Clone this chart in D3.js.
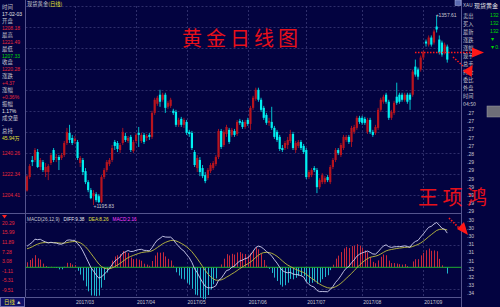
<!DOCTYPE html>
<html><head><meta charset="utf-8">
<script src="https://cdn.jsdelivr.net/npm/d3@7"></script>
<style>html,body{margin:0;padding:0;background:#030340;overflow:hidden}</style>
</head><body><svg id="c" width="500" height="307"></svg>
<script>
// ---------- DATA ----------
const opens = [1208.18,1219.7,1234.3,1234.3,1241.1,1228.3,1232.5,1224.0,1224.0,1231.7,
1242.8,1236.0,1236.8,1236.0,1238.5,1248.8,1257.4,1253.1,1250.5,1249.7,
1231.7,1234.3,1224.8,1215.4,1208.6,1203.4,1205.1,1203.4,1198.3,1219.7,
1225.7,1230.8,1234.3,1249.7,1248.8,1242.8,1248.8,1254.8,1250.5,1254.0,
1242.0,1250.5,1257.4,1250.5,1255.7,1253.1,1255.7,1254.0,1274.5,1282.3,
1290.0,1285.7,1290.0,1279.7,1280.5,1276.3,1275.4,1264.3,1269.4,1264.3,
1266.8,1258.3,1257.4,1241.1,1227.4,1234.3,1227.4,1221.4,1218.8,1224.8,
1227.4,1230.8,1236.8,1259.1,1247.1,1256.5,1260.0,1255.7,1259.1,1256.5,
1267.7,1266.8,1262.5,1268.5,1265.1,1278.8,1286.5,1294.2,1285.7,1278.8,
1272.8,1266.0,1266.8,1261.7,1258.3,1254.0,1244.5,1244.5,1247.1,1250.5,
1256.5,1242.8,1246.3,1249.7,1246.3,1242.8,1219.7,1221.4,1227.4,1225.7,
1211.1,1215.4,1215.4,1219.7,1215.4,1228.3,1234.3,1242.8,1238.5,1244.5,
1251.4,1254.0,1249.7,1258.3,1261.7,1270.3,1270.3,1269.4,1258.3,1268.5,
1258.3,1257.4,1261.7,1277.1,1284.0,1290.0,1284.0,1270.3,1274.5,1288.3,
1290.0,1290.0,1285.7,1290.0,1290.0,1290.0,1314.0,1311.5,1311.5,1321.7,
1335.4,1332.8,1338.8,1334.5,1348.2,1337.1,1334.5,1326.8,1331.1];
const highs = [1221.49,1230.8,1237.7,1244.5,1243.7,1236.0,1234.3,1231.7,1230.8,1240.3,
1244.5,1239.4,1238.5,1240.3,1250.5,1261.7,1264.3,1255.7,1254.8,1251.4,
1237.7,1236.0,1227.4,1217.1,1210.3,1208.6,1206.8,1205.1,1221.4,1227.4,
1234.3,1236.0,1247.1,1251.4,1250.5,1248.8,1261.7,1257.4,1254.8,1255.7,
1251.4,1257.4,1262.5,1257.4,1257.4,1256.5,1257.4,1276.3,1287.4,1289.1,
1294.2,1291.7,1291.7,1284.8,1287.4,1278.0,1277.1,1270.3,1271.1,1270.3,
1268.5,1260.0,1259.1,1242.8,1238.5,1236.8,1230.0,1224.0,1227.4,1231.7,
1233.4,1238.5,1260.8,1260.8,1260.0,1264.3,1261.7,1261.7,1260.8,1268.5,
1269.4,1268.5,1268.5,1270.3,1280.5,1289.1,1296.0,1296.0,1287.4,1280.5,
1274.5,1270.3,1279.7,1263.4,1260.0,1255.7,1247.1,1250.5,1254.0,1260.0,
1258.3,1250.5,1251.4,1251.4,1248.0,1244.5,1225.7,1227.4,1229.1,1227.4,
1218.8,1223.1,1220.5,1221.4,1230.0,1236.0,1244.5,1244.5,1248.8,1255.7,
1255.7,1255.7,1263.4,1264.3,1272.0,1272.0,1272.0,1271.1,1270.3,1270.3,
1260.0,1264.3,1278.8,1287.4,1290.0,1291.7,1285.7,1277.1,1284.8,1300.3,
1291.7,1291.7,1291.7,1291.7,1291.7,1311.5,1320.0,1313.2,1323.4,1327.7,
1337.1,1340.6,1340.6,1345.7,1357.61,1340.6,1336.2,1334.5,1332.8];
const lows = [1207.33,1218.0,1229.1,1232.5,1227.4,1225.7,1224.0,1219.7,1217.1,1230.0,
1232.5,1232.5,1225.7,1234.3,1236.8,1247.1,1248.8,1247.1,1248.0,1234.3,
1228.3,1221.4,1213.7,1206.8,1200.8,1195.83,1198.3,1197.4,1197.4,1218.0,
1224.0,1229.1,1232.5,1242.8,1241.1,1240.3,1247.1,1249.7,1248.8,1241.1,
1240.3,1248.8,1245.4,1248.8,1248.0,1250.5,1251.4,1252.3,1272.8,1280.5,
1279.7,1284.0,1274.5,1278.0,1278.8,1272.8,1262.5,1262.5,1262.5,1261.7,
1255.7,1254.0,1242.8,1228.3,1224.0,1220.5,1218.8,1214.5,1217.1,1223.1,
1225.7,1229.1,1235.1,1243.7,1245.4,1254.0,1248.0,1254.0,1254.0,1254.8,
1264.3,1260.8,1260.8,1263.4,1260.0,1277.1,1284.8,1284.0,1275.4,1268.5,
1264.3,1263.4,1260.0,1252.3,1249.7,1242.0,1241.1,1242.8,1243.7,1248.8,
1242.8,1240.3,1244.5,1242.8,1239.4,1218.0,1218.0,1219.7,1224.0,1206.0,
1209.4,1213.7,1213.7,1215.4,1213.7,1226.5,1232.5,1238.5,1236.8,1242.8,
1249.7,1248.0,1245.4,1256.5,1260.0,1265.1,1264.3,1264.3,1256.5,1256.5,
1254.0,1255.7,1260.0,1275.4,1282.3,1282.3,1268.5,1268.5,1272.8,1281.4,
1282.3,1284.0,1284.0,1282.3,1277.1,1288.3,1305.4,1302.8,1309.7,1320.0,
1331.1,1331.1,1331.1,1332.8,1343.1,1324.3,1322.5,1324.3,1317.4];
const closes = [1220.28,1229.1,1232.5,1242.8,1228.3,1234.3,1225.7,1228.3,1229.1,1238.5,
1234.3,1236.8,1234.3,1238.5,1248.8,1258.3,1251.4,1248.8,1252.3,1236.0,
1236.0,1224.0,1215.4,1208.6,1201.7,1206.0,1200.0,1198.3,1219.7,1225.7,
1232.5,1234.3,1244.5,1246.3,1243.7,1247.1,1258.3,1251.4,1253.1,1242.8,
1249.7,1255.7,1255.7,1255.7,1249.7,1254.8,1254.0,1274.5,1285.7,1287.4,
1284.0,1290.0,1278.8,1283.1,1285.7,1274.5,1264.3,1268.5,1264.3,1268.5,
1257.4,1256.5,1244.5,1230.0,1236.0,1224.0,1220.5,1216.3,1225.7,1230.0,
1231.7,1236.8,1259.1,1245.4,1258.3,1262.5,1249.7,1260.0,1255.7,1266.8,
1266.0,1262.5,1266.8,1265.1,1278.8,1287.4,1294.2,1285.7,1277.1,1270.3,
1266.0,1267.7,1261.7,1254.0,1251.4,1243.7,1242.8,1248.8,1251.4,1256.5,
1244.5,1248.8,1249.7,1244.5,1241.1,1219.7,1224.0,1225.7,1225.7,1211.1,
1217.1,1221.4,1218.8,1217.1,1228.3,1234.3,1242.8,1240.3,1247.1,1254.0,
1254.0,1249.7,1261.7,1262.5,1270.3,1266.8,1266.0,1266.0,1268.5,1258.3,
1255.7,1262.5,1277.1,1285.7,1288.3,1284.0,1270.3,1275.4,1283.1,1283.1,
1284.0,1285.7,1290.0,1284.0,1285.7,1309.7,1307.2,1305.4,1321.7,1326.0,
1333.7,1338.8,1332.8,1344.0,1345.7,1326.0,1324.3,1332.8,1320.0];

const monthLabels = ["2017/03","2017/04","2017/05","2017/06","2017/07","2017/08","2017/09"];
const monthStartIdx = [18,41,60,83,105,126,149];

const priceTicks = [1204.41,1222.34,1240.26];
const priceGrid = [1204.41,1222.34,1240.26,1258.19,1276.11,1294.04,1311.96,1329.89,1347.81,1365.74];

const macdParams = [26,12,9];          // long, short, signal
const macdSeed = {diff:9.38, dea:8.26, ema26:1199.5}; // values on first bar (from title)
const macdTicks = [20.29,15.99,11.89,7.28,3.08,-1.11,-5.31,-9.51];
const macdGrid = [20.29,10.1,-9.51];
const macdTitle = ["MACD(26,12,9)","DIFF:9.38","DEA:8.26","MACD:2.16"];

const leftLabels = ["时间","开盘","最高","最低","收盘","涨跌","涨幅","振幅","成交量","总持"];
const leftValues = ["17-02-03","1208.18","1221.49","1207.33","1220.28","+4.37","+0.36%","1.17%","-","45.94万"];
const leftValueKinds = ["w","r","r","g","r","r","r","w","w","y"];

const rightLabels = ["卖出","买入","最新","涨跌","涨幅","现手","总手","持仓","委比","外盘","时间","04:50"];
const rightValues = ["132","132","132","▼","▼0."];
const tickTimes = [".27",".27",".27",".27",".27",".28",".29",".29",".29",".29",".29",".29",".29",
".30",".30",".30",".31",".31",".31",".32",".32",".33",".34"];

// ---------- DRAW ----------
const svg = d3.select("#c");
const BG="#030340", GRID="#3a3a76", FRAME="#55558e", TXT="#c8c8d2",
      RED="#e8283a", GRN="#00d800", YEL="#e0e030", CY="#00f0f0", UPC="#b8141e";
const NUMF="'Liberation Sans', 'Noto Sans CJK SC', sans-serif";
const CJKF="'Noto Sans CJK SC', 'Liberation Sans', sans-serif";
svg.append("rect").attr("width",500).attr("height",307).attr("fill",BG);

const n = closes.length;
const x = d3.scaleLinear().domain([0,n-1]).range([27, 27+2.66*(n-1)]);
const y = d3.scaleLinear().domain([priceTicks[0],priceTicks[2]]).range([195,153]);
const ym = d3.scaleLinear().domain([-9.51,20.29]).range([288.6,221.85]);
const L=25.5, R=461.5;

// grids
svg.append("g").selectAll("line").data(priceGrid).join("line")
  .attr("x1",L).attr("x2",R).attr("y1",d=>Math.round(y(d))+0.5).attr("y2",d=>Math.round(y(d))+0.5)
  .attr("stroke",GRID).attr("stroke-width",0.8).attr("stroke-dasharray","2,2");
svg.append("g").selectAll("line").data(macdGrid).join("line")
  .attr("x1",L).attr("x2",R).attr("y1",d=>Math.round(ym(d))+0.5).attr("y2",d=>Math.round(ym(d))+0.5)
  .attr("stroke",GRID).attr("stroke-width",0.8).attr("stroke-dasharray","2,2");
const vg = svg.append("g");
monthStartIdx.forEach(i=>{
  const xx = Math.round(x(i))+0.5;
  vg.append("line").attr("x1",xx).attr("x2",xx).attr("y1",6).attr("y2",210);
  vg.append("line").attr("x1",xx).attr("x2",xx).attr("y1",222).attr("y2",297);
});
vg.selectAll("line").attr("stroke",GRID).attr("stroke-width",0.8).attr("stroke-dasharray","2,2");

// frame lines
const fr = svg.append("g").attr("stroke",FRAME).attr("stroke-width",1);
fr.append("line").attr("x1",L).attr("x2",L).attr("y1",0).attr("y2",297);
fr.append("line").attr("x1",R).attr("x2",R).attr("y1",0).attr("y2",307);
fr.append("line").attr("x1",0).attr("x2",R).attr("y1",213.5).attr("y2",213.5);
fr.append("line").attr("x1",L).attr("x2",R).attr("y1",297.5).attr("y2",297.5);

// candles
const cg = svg.append("g");
d3.range(n).forEach(i=>{
  const up = closes[i] >= opens[i];
  const col = up ? UPC : CY;
  const cx = x(i);
  cg.append("line").attr("x1",cx).attr("x2",cx).attr("y1",y(highs[i])).attr("y2",y(lows[i]))
    .attr("stroke",up?"#c8161e":CY).attr("stroke-width",0.8);
  const top = y(Math.max(opens[i],closes[i])), bot = y(Math.min(opens[i],closes[i]));
  cg.append("rect").attr("x",cx-1.1).attr("width",2.2).attr("y",top).attr("height",Math.max(1,bot-top))
    .attr("fill",col);
});

// extreme labels
const iMax = d3.maxIndex(highs), iMin = d3.minIndex(lows);
svg.append("text").attr("x",x(iMax)-1).attr("y",y(highs[iMax])+1).text("+"+highs[iMax].toFixed(2))
  .attr("fill",TXT).attr("font-size",5).attr("font-family",NUMF);
svg.append("text").attr("x",x(iMin)).attr("y",y(lows[iMin])+3).text("+"+lows[iMin].toFixed(2))
  .attr("fill",TXT).attr("font-size",5).attr("font-family",NUMF);

// price axis labels
svg.append("g").selectAll("text").data(priceTicks).join("text")
  .attr("x",2).attr("y",d=>y(d)).attr("dominant-baseline","central").text(d=>d.toFixed(2))
  .attr("fill",RED).attr("font-size",5).attr("font-family",NUMF);

// MACD
const [nL,nS,nG] = macdParams;
let e26 = macdSeed.ema26, e12 = macdSeed.ema26 + macdSeed.diff, dea = macdSeed.dea;
const diffA=[], deaA=[], histA=[];
closes.forEach((c,i)=>{
  if(i>0){ e12 = (e12*(nS-1)+2*c)/(nS+1); e26 = (e26*(nL-1)+2*c)/(nL+1); }
  const d = e12-e26;
  if(i>0) dea = (dea*(nG-1)+2*d)/(nG+1);
  diffA.push(d); deaA.push(dea); histA.push(2*(d-dea));
});
svg.append("g").selectAll("line").data(histA).join("line")
  .attr("x1",(d,i)=>Math.round(x(i))+0.5).attr("x2",(d,i)=>Math.round(x(i))+0.5)
  .attr("y1",ym(0)).attr("y2",d=>ym(d))
  .attr("stroke",d=>d>=0?"#c8283c":"#20b8d0").attr("stroke-width",1);
svg.append("line").attr("x1",L).attr("x2",R).attr("y1",ym(0)).attr("y2",ym(0))
  .attr("stroke","#20b030").attr("stroke-width",1);
const ln = d3.line().x((d,i)=>x(i)).y(d=>ym(d));
svg.append("path").datum(deaA).attr("d",ln).attr("fill","none").attr("stroke","#c0c040").attr("stroke-width",0.9);
svg.append("path").datum(diffA).attr("d",ln).attr("fill","none").attr("stroke","#d0d0f0").attr("stroke-width",0.9);
svg.append("g").selectAll("text").data(macdTicks).join("text")
  .attr("x",2).attr("y",d=>ym(d)+1).attr("dominant-baseline","central").text(d=>d.toFixed(2))
  .attr("fill",RED).attr("font-size",5).attr("font-family",NUMF);
// MACD title
const mt = svg.append("text").attr("x",27).attr("y",218.5).attr("dominant-baseline","central")
  .attr("font-size",4.7).attr("font-family",NUMF);
const mtCols = [TXT,"#e8e8f0","#e0e040","#ff40ff"];
macdTitle.forEach((t,k)=>mt.append("tspan").attr("fill",mtCols[k]).attr("dx",k?4:0).text(t));
svg.append("path").attr("d","M2,215 L7,215 L4.5,218.5Z").attr("fill","#ff2020");

// month labels
svg.append("g").selectAll("text").data(monthLabels).join("text")
  .attr("x",(d,k)=>x(monthStartIdx[k])+1).attr("y",301.5).attr("dominant-baseline","central").text(d=>d)
  .attr("fill",TXT).attr("font-size",5).attr("font-family",NUMF);

// bottom-left button
svg.append("rect").attr("x",0.5).attr("y",297.5).attr("width",24).attr("height",9).attr("fill","#101068").attr("stroke","#6a6aa8");
svg.append("text").attr("x",4).attr("y",302.3).attr("dominant-baseline","central").text("日线")
  .attr("fill",YEL).attr("font-size",5.4).attr("font-family",CJKF);
svg.append("text").attr("x",17).attr("y",302.5).attr("dominant-baseline","central").text("▲")
  .attr("fill","#e0e0e0").attr("font-size",3.5).attr("font-family",CJKF);

// main title
const tt = svg.append("text").attr("x",27).attr("y",3.6).attr("dominant-baseline","central")
  .attr("font-size",5.3).attr("font-family",CJKF);
tt.append("tspan").attr("fill",TXT).text("现货黄金");
tt.append("tspan").attr("fill",YEL).text("(日线)");

// left info panel
const kindCol = {w:"#e8e8e8", r:RED, g:GRN, y:YEL};
leftLabels.forEach((t,k)=>{
  svg.append("text").attr("x",2).attr("y",7.2+13.8*k).attr("dominant-baseline","central").text(t)
    .attr("fill",TXT).attr("font-size",5.4).attr("font-family",CJKF);
  svg.append("text").attr("x",2).attr("y",14.1+13.8*k).attr("dominant-baseline","central").text(leftValues[k])
    .attr("fill",kindCol[leftValueKinds[k]]).attr("font-size",5).attr("font-family",NUMF);
});

// right panel
svg.append("rect").attr("x",455).attr("y",0).attr("width",6).attr("height",5.5).attr("fill","#5a6ab0").attr("stroke","#b0b8e0").attr("stroke-width",0.5);
svg.append("text").attr("x",463).attr("y",5).attr("dominant-baseline","central").text("XAU")
  .attr("fill",TXT).attr("font-size",4.6).attr("font-family",NUMF);
svg.append("text").attr("x",474).attr("y",5).attr("dominant-baseline","central").text("现货黄金")
  .attr("fill","#e8e8e8").attr("font-size",6).attr("font-family",CJKF);
rightLabels.forEach((t,k)=>{
  svg.append("text").attr("x",463).attr("y",15+8.05*k).attr("dominant-baseline","central").text(t)
    .attr("fill",TXT).attr("font-size",5.2).attr("font-family",CJKF);
});
rightValues.forEach((t,k)=>{
  svg.append("text").attr("x",490).attr("y",15+8.05*k).attr("dominant-baseline","central").text(t)
    .attr("fill",GRN).attr("font-size",5.2).attr("font-family",NUMF);
});
svg.append("rect").attr("x",487).attr("y",106).attr("width",14).attr("height",11).attr("fill","#6e6e78").attr("stroke","#a0a0a8").attr("stroke-width",0.5);
tickTimes.forEach((t,k)=>{
  svg.append("text").attr("x",467).attr("y",113+8.2*k).attr("dominant-baseline","central").text(t)
    .attr("fill",TXT).attr("font-size",5).attr("font-family",NUMF);
});

// annotations (red handwriting + arrows)
const ANN="#e8101a";
svg.append("text").attr("x",182).attr("y",46).text("黄金日线图").attr("fill",ANN)
  .attr("font-size",20).attr("letter-spacing",4).attr("font-family",CJKF);
svg.append("text").attr("x",418).attr("y",205).text("王项鸿").attr("fill",ANN)
  .attr("font-size",20).attr("letter-spacing",4.5).attr("font-family",CJKF);
const ag = svg.append("g");
ag.append("line").attr("x1",415).attr("y1",52.5).attr("x2",472).attr("y2",52.5);
ag.append("line").attr("x1",453).attr("y1",57).attr("x2",463).attr("y2",66);
ag.append("line").attr("x1",449).attr("y1",218).attr("x2",459).attr("y2",228);
ag.selectAll("line").attr("stroke","#ff1818").attr("stroke-width",1.6).attr("stroke-dasharray","1.5,1.5");
ag.append("path").attr("d","M472,47.5 L484,52.5 L472,57.5Z").attr("fill","#ff1818");
ag.append("path").attr("d","M462.7,71 L472.7,65 L471.7,77Z").attr("fill","#ff1818");
ag.append("path").attr("d","M457,229 L464,222 L468,235Z").attr("fill","#ff1818");
</script></body></html>
